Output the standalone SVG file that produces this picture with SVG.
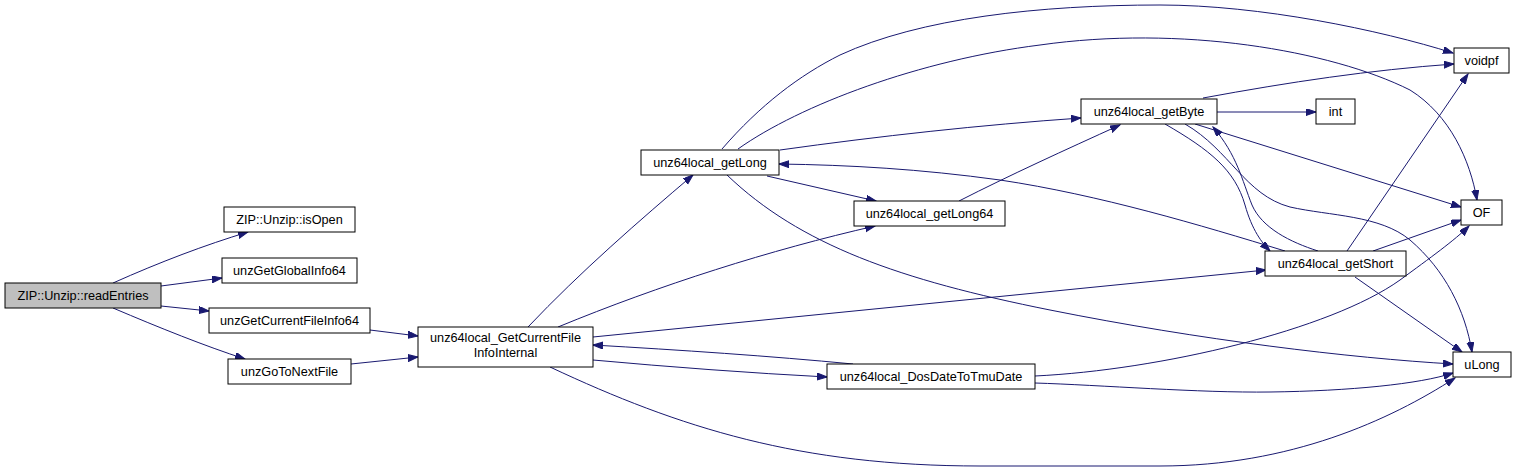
<svg xmlns="http://www.w3.org/2000/svg" width="1516" height="472" viewBox="0 0 1516 472">
<style>
.n rect{fill:#ffffff;stroke:#000000;stroke-width:1}
.n text{font-family:"Liberation Sans",Arial,sans-serif;font-size:12.7px;text-anchor:middle;fill:#000000}
.e path{fill:none;stroke:#191970;stroke-width:1;marker-end:url(#ah)}
</style>
<defs>
<marker id="ah" markerUnits="userSpaceOnUse" markerWidth="11" markerHeight="8" refX="10" refY="3.5" orient="auto">
<path d="M0,0 L10,3.5 L0,7 z" fill="#191970" stroke="#191970" stroke-width="1"/>
</marker>
</defs>
<rect width="1516" height="472" fill="#ffffff"/>
<g id="connectors" class="e">
<path d="M113,283 C160,262 205,245 248,232"/>
<path d="M161,286 L222,278"/>
<path d="M161,306 L209,311"/>
<path d="M113,308 C160,328 205,346 245,359"/>
<path d="M370,330 L418,336"/>
<path d="M351,364 L418,357"/>
<path d="M528,327 C580,272 640,220 693,175"/>
<path d="M558,327 C660,285 770,250 875,226"/>
<path d="M593,337 L1266,270"/>
<path d="M853,364 C770,356 680,350 593,345"/>
<path d="M593,360 C670,367 750,373 827,377"/>
<path d="M550,367 C680,428 800,466 980,466 L1160,466 C1290,466 1390,420 1455,378"/>
<path d="M722,149 C760,105 800,75 840,55 C920,18 1040,5 1160,5 C1260,5 1380,30 1453,53"/>
<path d="M738,149 C800,105 920,60 1040,45 C1180,25 1330,50 1410,90 C1450,115 1470,160 1477,200"/>
<path d="M780,150 C880,136 980,125 1081,118"/>
<path d="M727,175 C800,245 900,280 1050,310 C1200,340 1350,358 1453,364"/>
<path d="M767,176 L876,201"/>
<path d="M959,201 C1010,175 1065,150 1120,125"/>
<path d="M1285,251 C1200,225 1100,195 1000,180 C920,169 850,165 779,164"/>
<path d="M1203,98 C1290,82 1370,70 1454,64"/>
<path d="M1217,112 L1316,112"/>
<path d="M1195,124 L1461,207"/>
<path d="M1165,124 C1210,150 1235,170 1245,205 C1252,230 1262,243 1270,251"/>
<path d="M1318,251 C1290,242 1262,228 1252,205 C1242,180 1237,155 1213,127"/>
<path d="M1185,124 C1230,150 1245,195 1290,207 C1330,216 1380,215 1410,240 C1445,270 1465,310 1472,352"/>
<path d="M1347,251 L1468,74"/>
<path d="M1373,251 L1461,220"/>
<path d="M1355,277 L1462,352"/>
<path d="M1035,376 C1160,370 1330,330 1400,280 C1430,258 1455,240 1469,226"/>
<path d="M1035,383 C1100,385 1200,393 1270,392 C1350,391 1420,384 1453,373"/>
</g>
<g id="readEntries" class="n"><rect x="5" y="283" width="156" height="25" style="fill:#bfbfbf"/><text x="83" y="300">ZIP::Unzip::readEntries</text></g>
<g id="isOpen" class="n"><rect x="224" y="207" width="131" height="25"/><text x="289.5" y="224">ZIP::Unzip::isOpen</text></g>
<g id="unzGetGlobalInfo64" class="n"><rect x="222" y="258" width="135" height="25"/><text x="289.5" y="275">unzGetGlobalInfo64</text></g>
<g id="unzGetCurrentFileInfo64" class="n"><rect x="209" y="308" width="161" height="25"/><text x="289.5" y="325">unzGetCurrentFileInfo64</text></g>
<g id="unzGoToNextFile" class="n"><rect x="228" y="359" width="123" height="25"/><text x="289.5" y="376">unzGoToNextFile</text></g>
<g id="GetCurrentFileInfoInternal" class="n"><rect x="418" y="327" width="175" height="40"/><text x="505.5" y="342">unz64local_GetCurrentFile</text><text x="505.5" y="357">InfoInternal</text></g>
<g id="getLong" class="n"><rect x="641" y="150" width="138" height="25"/><text x="710" y="167">unz64local_getLong</text></g>
<g id="getLong64" class="n"><rect x="854" y="201" width="151" height="25"/><text x="929.5" y="218">unz64local_getLong64</text></g>
<g id="DosDateToTmuDate" class="n"><rect x="827" y="364" width="208" height="25"/><text x="931" y="381">unz64local_DosDateToTmuDate</text></g>
<g id="getByte" class="n"><rect x="1081" y="99" width="136" height="25"/><text x="1149" y="116">unz64local_getByte</text></g>
<g id="getShort" class="n"><rect x="1265" y="251" width="141" height="25"/><text x="1335.5" y="268">unz64local_getShort</text></g>
<g id="int" class="n"><rect x="1316" y="99" width="39" height="25"/><text x="1335.5" y="116">int</text></g>
<g id="voidpf" class="n"><rect x="1454" y="48" width="55" height="25"/><text x="1481.5" y="65">voidpf</text></g>
<g id="OF" class="n"><rect x="1461" y="200" width="41" height="25"/><text x="1481.5" y="217">OF</text></g>
<g id="uLong" class="n"><rect x="1453" y="352" width="58" height="25"/><text x="1482" y="369">uLong</text></g>
</svg>
